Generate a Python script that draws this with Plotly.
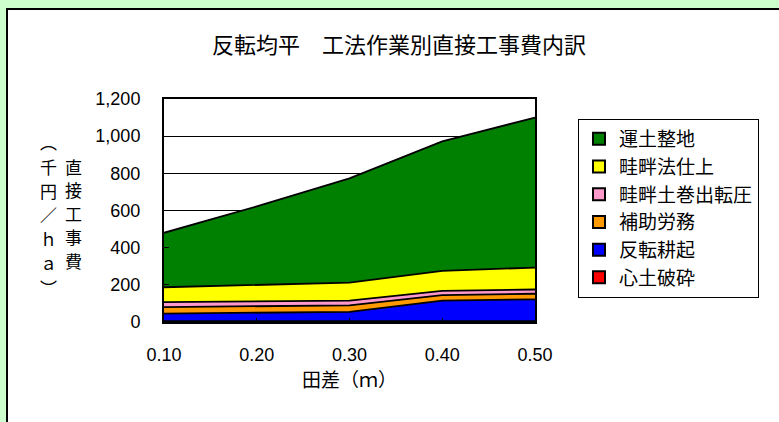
import plotly.graph_objects as go

x_vals = [0.10, 0.20, 0.30, 0.40, 0.50]
x_ticks = ["0.10", "0.20", "0.30", "0.40", "0.50"]

# series (千円/ha), bottom of stack first
shindo_hasai = [5, 5, 5, 5, 5]          # 心土破砕
hanten_koki = [40, 45, 50, 110, 117]    # 反転耕起
hojo_romu = [35, 35, 35, 30, 30]        # 補助労務
keihan_makidashi = [27, 25, 25, 23, 23] # 畦畔土巻出転圧
keihan_nori = [80, 89, 97, 107, 118]    # 畦畔法仕上
undo_seichi = [293, 423, 561, 697, 807] # 運土整地

series = [
    ("心土破砕", shindo_hasai, "#FF0000"),
    ("反転耕起", hanten_koki, "#0000FF"),
    ("補助労務", hojo_romu, "#FF9900"),
    ("畦畔土巻出転圧", keihan_makidashi, "#FF99CC"),
    ("畦畔法仕上", keihan_nori, "#FFFF00"),
    ("運土整地", undo_seichi, "#008000"),
]

title_text = "反転均平　工法作業別直接工事費内訳"
x_title = "田差（ｍ）"
y_title_main = "直接工事費"
y_title_unit = "︵千円／ｈａ︶"

FONT = "Liberation Sans, Arial, Noto Sans CJK JP"
CJK = "Noto Sans CJK JP"
W, H = 779, 422
L, R, T, B = 164, 535, 99, 322

def px(xp):
    return (xp - L) / (R - L)

def py(yp):
    return (B - yp) / (B - T)

fig = go.Figure()
for name, vals, col in series:
    fig.add_trace(go.Scatter(
        x=x_vals, y=vals, name=name, stackgroup="one", mode="lines",
        line=dict(color="black", width=1.8), fillcolor=col, showlegend=False,
    ))

# legend entries (top to bottom as in the reference)
for name, vals, col in reversed(series):
    fig.add_trace(go.Scatter(
        x=[None], y=[None], name=name, mode="markers",
        marker=dict(symbol="square", size=12, color=col, line=dict(color="black", width=1.5)),
        legendgroup=name,
    ))

annotations = []
main_pos = [166, 189.5, 213, 236.5, 260]
for ch, yy in zip(y_title_main, main_pos):
    annotations.append(dict(text=ch, x=px(73), y=py(yy), xref="paper", yref="paper",
                            showarrow=False, xanchor="center", yanchor="middle",
                            font=dict(size=17, family=CJK, color="black")))
unit_pos = [141, 166, 190, 214, 238, 262, 287]
for ch, yy in zip(y_title_unit, unit_pos):
    annotations.append(dict(text=ch, x=px(48), y=py(yy), xref="paper", yref="paper",
                            showarrow=False, xanchor="center", yanchor="middle",
                            font=dict(size=17, family=CJK, color="black")))

fig.update_layout(
    width=W, height=H,
    margin=dict(l=L, r=W - R, t=T, b=H - B, pad=0),
    paper_bgcolor="#CCFFCC",
    plot_bgcolor="white",
    font=dict(family=FONT, color="black", size=18),
    title=dict(text=title_text, xref="container", x=399 / W, xanchor="center",
               yref="container", y=1 - 45 / H, yanchor="middle",
               font=dict(size=22, family=CJK)),
    xaxis=dict(
        range=[0.1, 0.5], tickvals=x_vals, ticktext=x_ticks,
        showline=True, linecolor="black", linewidth=2, mirror=True,
        ticks="inside", ticklen=4, tickcolor="black", showgrid=False, zeroline=False,
        ticklabelstandoff=15,
        title=dict(text=x_title, standoff=10, font=dict(size=19, family=CJK)),
    ),
    yaxis=dict(
        range=[0, 1200], dtick=200, tickformat=",d",
        showline=True, linecolor="black", linewidth=2, mirror=True,
        ticks="inside", ticklen=5, tickcolor="black",
        showgrid=True, gridcolor="black", gridwidth=1, zeroline=False,
        ticklabelstandoff=18,
    ),
    legend=dict(
        x=px(578), y=py(119), xanchor="left", yanchor="top",
        bgcolor="white", bordercolor="black", borderwidth=1,
        font=dict(size=19, family=CJK),
        traceorder="grouped", tracegroupgap=0, itemsizing="constant",
    ),
    annotations=annotations,
    shapes=[dict(type="rect", xref="paper", yref="paper",
                 x0=px(7), x1=px(900), y0=py(600), y1=py(9),
                 fillcolor="white", line=dict(color="black", width=2), layer="below")],
)

fig.write_html("out.html")
